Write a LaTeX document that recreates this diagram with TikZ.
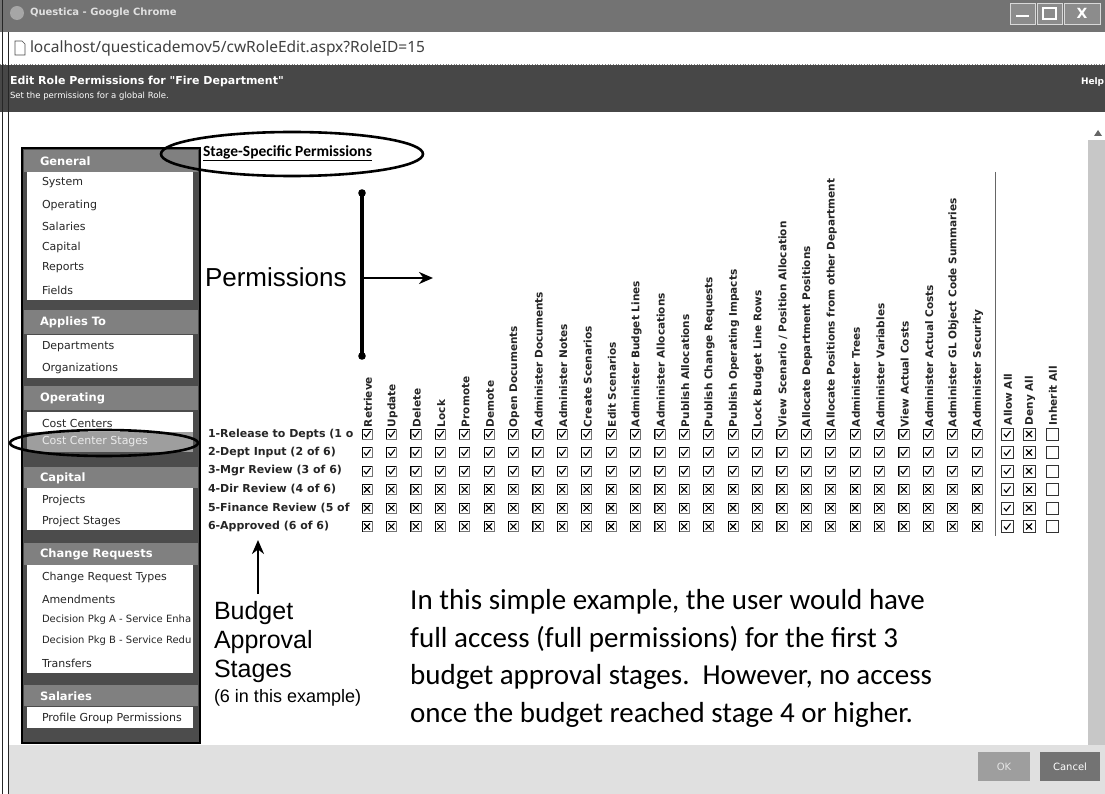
\documentclass[tikz,border=0pt]{standalone}
\usepackage{fontspec}
\setmainfont{DejaVu Sans}
\newfontfamily\arialf{Liberation Sans}
\newfontfamily\calf{Carlito}
\newfontfamily\notof{Noto Sans}
\font\rawquotefont="DejaVu Sans Bold" at 11pt
\usetikzlibrary{arrows.meta,shapes.geometric}
\newcommand\myfs[1]{\fontsize{#1}{#1}\selectfont}
\newcommand\straightq{{\rawquotefont\char34}}
\begin{document}
\begin{tikzpicture}[x=1pt,y=-1pt,
  txt/.style={inner sep=0pt, outer sep=0pt, anchor=west},
  sideitem/.style={txt, font=\myfs{11}, text=black!85},
  sidehdr/.style={txt, font=\bfseries\myfs{11.5}, text=white},
  stagelbl/.style={txt, font=\bfseries\myfs{11}, text=black!85},
  colhdr/.style={txt, rotate=90, font=\bfseries\myfs{10.5}, text=black!85},
  cbox/.style={draw=black!55, line width=0.6pt},
  cboxedge/.style={draw=black, line width=0.9pt},
  tickmk/.style={line width=1.1pt, black},
  callout/.style={draw=black, line width=2.6pt, ellipse, inner sep=0pt},
  bigarrow/.style={line width=2.6pt, -{Stealth[length=14pt,width=12pt]}},
  panelband/.style={fill=black!50},
  whitebox/.style={fill=white},
  winbtn/.style={fill=black!45, draw=black!15, line width=0.8pt},
]
\useasboundingbox (0,0) rectangle (1105,794);
\fill[white] (0,0) rectangle (1105,794);

% ---------- browser title bar ----------
\fill[black!55] (0,0) rectangle (1105,32);
\fill[black!35] (17,13) circle (7);
\node[txt, font=\bfseries\myfs{10}, text=black!12] (wintitle) at (30,13) {Questica - Google Chrome};
\draw[winbtn] (1010,3) rectangle (1035,24);
\draw[winbtn] (1037,3) rectangle (1062,24);
\draw[winbtn] (1064,3) rectangle (1100,24);
\draw[white, line width=2pt] (1016,16) -- (1029,16);
\draw[white, line width=1.2pt] (1043,8) rectangle (1056,19);
\node[font=\bfseries\myfs{14}, text=white] (closex) at (1082,13.5) {X};

% ---------- address bar ----------
\fill[white] (0,33) rectangle (1105,63);
\draw[black!50, line width=0.7pt, dotted] (0,64) -- (1105,64);
\draw[black!70, line width=0.7pt] (15,41) -- (22,41) -- (25,44) -- (25,55) -- (15,55) -- cycle;
\node[txt, font=\notof\myfs{15.5}, text=black!75] (url) at (30,48) {localhost/questicademov5/cwRoleEdit.aspx?RoleID=15};

% ---------- page header ----------
\fill[black!72] (0,65) rectangle (1105,112);
\node[txt, font=\bfseries\myfs{11}, text=white] (pagetitle) at (10,81) {Edit Role Permissions for \straightq Fire Department\straightq};
\node[txt, font=\myfs{8.5}, text=white] (pagesub) at (10,96) {Set the permissions for a global Role.};
\node[txt, font=\bfseries\myfs{9}, text=white] (help) at (1081,82) {Help};

% ---------- window frame, scrollbar, footer ----------
\draw[black!85, line width=1pt] (2.5,0) -- (2.5,794);
\draw[black!85, line width=1pt] (8,32) -- (8,794);
\fill[black!22] (1088,140) rectangle (1105,745);
\fill[black!60] (1094,136) -- (1102,136) -- (1098,130) -- cycle;
\fill[black!12] (9,745) rectangle (1105,794);
\fill[black!38] (978,752) rectangle (1030,781);
\node[font=\myfs{10}, text=black!10] (okbtn) at (1004,766.5) {OK};
\fill[black!55] (1040,752) rectangle (1100,781);
\node[font=\myfs{10}, text=white] (cancelbtn) at (1070,766.5) {Cancel};

% ---------- left navigation panel ----------
\fill[black!70] (22,148) rectangle (200,743);
\fill[panelband] (24,150) rectangle (198,172);
\fill[panelband] (24,310) rectangle (198,334);
\fill[panelband] (24,386) rectangle (198,410);
\fill[panelband] (24,467) rectangle (198,488);
\fill[panelband] (24,543) rectangle (198,565);
\fill[panelband] (24,685) rectangle (198,706);
\fill[whitebox] (27,172) rectangle (193,300);
\fill[whitebox] (27,335) rectangle (193,378);
\fill[whitebox] (27,412) rectangle (193,432);
\fill[black!38] (27,432) rectangle (193,452);
\fill[whitebox] (27,488) rectangle (193,530);
\fill[whitebox] (27,565) rectangle (193,673);
\fill[whitebox] (27,707) rectangle (193,728);
\draw[black, line width=1.4pt] (22,148) rectangle (200,743);

\node[sidehdr] (hgeneral) at (40,161) {General};
\node[sidehdr] (happlies) at (40,322) {Applies To};
\node[sidehdr] (hoperating) at (40,398) {Operating};
\node[sidehdr] (hcapital) at (40,478) {Capital};
\node[sidehdr] (hchange) at (40,554) {Change Requests};
\node[sidehdr] (hsalaries) at (40,696) {Salaries};

\foreach \t/\yy [count=\k] in {System/183, Operating/205, Salaries/226, Capital/247, Reports/268, Fields/290,
   Departments/347, Organizations/368, Cost Centers/423,
   Projects/500, Project Stages/521,
   Change Request Types/577, Amendments/599,
   Transfers/663, Profile Group Permissions/718}
  \node[sideitem] (item\k) at (42,\yy) {\t};
\node[sideitem, font=\myfs{10}] (itemdpa) at (42,620) {Decision Pkg A - Service Enha};
\node[sideitem, font=\myfs{10}] (itemdpb) at (42,641) {Decision Pkg B - Service Redu};
\node[sideitem, text=black!8] (itemsel) at (42,442) {Cost Center Stages};

% ---------- callouts ----------
\node[txt, font=\calf\bfseries\myfs{15.5}] (ssp) at (203,153) {\underline{Stage-Specific Permissions}};
\node[callout, minimum width=262pt, minimum height=44pt] (ell1) at (292,154) {};
\node[callout, minimum width=188pt, minimum height=26pt] (ell2) at (104,443) {};

\node[txt, font=\arialf\myfs{26}] (perm) at (205,277) {Permissions};
\coordinate (bt) at (362,193);
\coordinate (bb) at (362,356);
\coordinate (ba) at (363,278);
\coordinate (pa) at (433,278);
\draw[line width=3.5pt] (bt) -- (bb);
\fill (bt) circle (3.8);
\fill (bb) circle (3.8);
\draw[bigarrow] (ba) -- (pa);

\node[txt, font=\arialf\myfs{25}] (budget1) at (214,613) {Budget};
\node[txt, font=\arialf\myfs{25}] (budget2) at (214,642) {Approval};
\node[txt, font=\arialf\myfs{25}] (budget3) at (214,671) {Stages};
\node[txt, font=\arialf\myfs{18}] (budgetnote) at (214,698) {(6 in this example)};
\coordinate (bgfoot) at (258,594);
\coordinate (bghead) at (258,540);
\draw[bigarrow] (bgfoot) -- (bghead);

\node[anchor=north west, inner sep=0pt, align=left, font=\calf\fontsize{29}{37.8}\selectfont] (para) at (410,589)
 {In this simple example, the user would have\\full access (full permissions) for the first 3\\budget approval stages.\ \ However, no access\\once the budget reached stage 4 or higher.};

% ---------- stage rows ----------
\begin{scope}
\clip (200,420) rectangle (352,540);
\foreach \t [count=\r from 0] in {1-Release to Depts (1 of 6), 2-Dept Input (2 of 6), 3-Mgr Review (3 of 6),
   4-Dir Review (4 of 6), 5-Finance Review (5 of 6), 6-Approved (6 of 6)}
  \node[stagelbl] (stage\r) at (208,434+18.5*\r) {\t};
\end{scope}

% ---------- permission columns ----------
\foreach \n [count=\i from 0] in {Retrieve, Update, Delete, Lock, Promote, Demote, Open Documents,
   Administer Documents, Administer Notes, Create Scenarios, Edit Scenarios, Administer Budget Lines,
   Administer Allocations, Publish Allocations, Publish Change Requests, Publish Operating Impacts,
   Lock Budget Line Rows, View Scenario / Position Allocation, Allocate Department Positions,
   Allocate Positions from other Department, Administer Trees, Administer Variables, View Actual Costs,
   Administer Actual Costs, Administer GL Object Code Summaries, Administer Security}
{
  \pgfmathsetmacro\cx{367+24.4*\i}
  \node[colhdr] (col\i) at (\cx+1,427) {\n};
  \foreach \r in {0,...,5}{
    \pgfmathsetmacro\cy{434+18.5*\r}
    \draw[cbox] (\cx-5,\cy-5) rectangle (\cx+5,\cy+5);
    \draw[cboxedge] (\cx-5,\cy+5) -- (\cx-5,\cy-5) -- (\cx+5,\cy-5);
    \ifnum\r<3
      \draw[tickmk] (\cx-3,\cy) -- (\cx-0.8,\cy+2.8) -- (\cx+3.5,\cy-3);
    \else
      \draw[tickmk] (\cx-3,\cy-3) -- (\cx+3,\cy+3) (\cx-3,\cy+3) -- (\cx+3,\cy-3);
    \fi
  }
}

\draw[black!60, line width=0.9pt] (995,172) -- (995,536);

\foreach \n/\cx [count=\j from 0] in {Allow All/1007, Deny All/1029, Inherit All/1052}
{
  \node[colhdr] (bulk\j) at (\cx+1,425) {\n};
  \foreach \r in {0,...,5}{
    \pgfmathsetmacro\cy{434+18.5*\r}
    \draw[draw=black!80, line width=0.8pt] (\cx-6,\cy-6) rectangle (\cx+6,\cy+6);
    \ifnum\j=0
      \draw[tickmk] (\cx-3,\cy) -- (\cx-0.8,\cy+2.8) -- (\cx+3.5,\cy-3);
    \fi
    \ifnum\j=1
      \draw[tickmk] (\cx-3,\cy-3) -- (\cx+3,\cy+3) (\cx-3,\cy+3) -- (\cx+3,\cy-3);
    \fi
  }
}
\end{tikzpicture}
\end{document}
